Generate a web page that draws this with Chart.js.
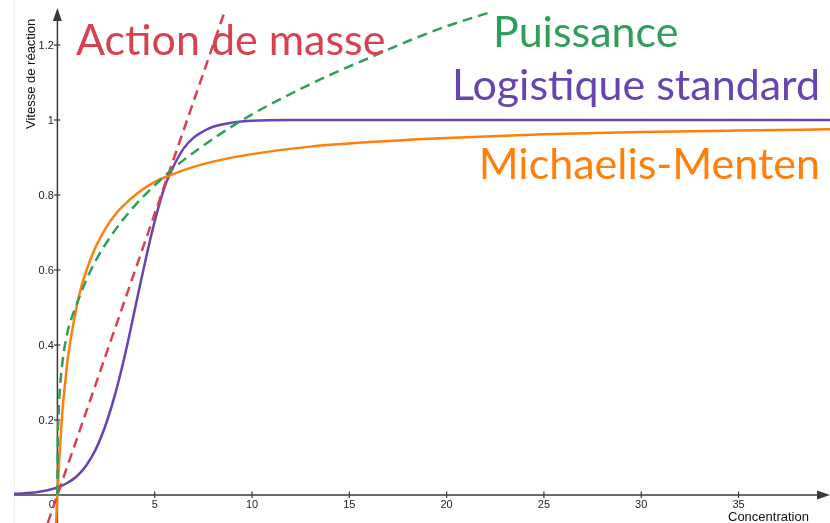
<!DOCTYPE html>
<html><head><meta charset="utf-8">
<script src="https://cdn.jsdelivr.net/npm/chart.js@4.4.1/dist/chart.umd.min.js"></script>
<style>html,body{margin:0;padding:0;background:#fff}#wrap{position:relative;width:830px;height:523px}</style>
</head><body><div id="wrap"><canvas id="c"></canvas></div>
<script>
// Data
const mmX = [-0.07, 0, 0.05, 0.1, 0.2, 0.3, 0.4, 0.5, 0.65, 0.8, 1, 1.25, 1.5, 1.75, 2, 2.5, 3, 3.5, 4, 5, 6, 7, 8, 10, 13, 16, 20, 25, 30, 35, 39.7];
const mmY = [-0.075, 0, 0.05, 0.1, 0.18, 0.25, 0.3, 0.35, 0.405, 0.45, 0.505, 0.56, 0.6, 0.635, 0.665, 0.713, 0.75, 0.777, 0.8, 0.835, 0.857, 0.875, 0.889, 0.909, 0.929, 0.941, 0.952, 0.962, 0.968, 0.972, 0.975];

const pwX = [0, 0.02, 0.05, 0.1, 0.25, 0.5, 0.75, 1, 1.5, 2, 3, 4, 5, 6, 8, 10, 12, 14, 16, 18, 20, 22.1];
const pwY = [0, 0.15, 0.2, 0.26, 0.35, 0.43, 0.475, 0.51, 0.575, 0.628, 0.709, 0.773, 0.826, 0.873, 0.95, 1.015, 1.07, 1.12, 1.165, 1.21, 1.25, 1.285];

const lgX = [-2.23, -1, 0, 0.5, 1, 1.5, 2, 2.5, 3, 3.5, 4, 4.5, 5, 5.5, 6, 6.5, 7, 7.5, 8, 9, 10, 12, 39.7];
const lgY = [0.003, 0.008, 0.02, 0.032, 0.05, 0.08, 0.125, 0.19, 0.275, 0.38, 0.5, 0.62, 0.73, 0.82, 0.88, 0.925, 0.953, 0.97, 0.982, 0.993, 0.998, 1, 1];

const raX = [-0.5, 8.6];
const raY = [-0.075, 1.29];

const xTicks = [0, 5, 10, 15, 20, 25, 30, 35];
const xTickLabels = ['0', '5', '10', '15', '20', '25', '30', '35'];
const yTicks = [0.2, 0.4, 0.6, 0.8, 1, 1.2];
const yTickLabels = ['0.2', '0.4', '0.6', '0.8', '1', '1.2'];

const seriesNames = ['Action de masse', 'Puissance', 'Logistique standard', 'Michaelis-Menten'];
const xTitle = 'Concentration';
const yTitle = 'Vitesse de réaction';

const C_RED = '#d8414f', C_GREEN = '#2e9e58', C_PURPLE = '#6843b2', C_ORANGE = '#ff7f0a';

function pts(xs, ys){ return xs.map((x,i)=>({x:x, y:ys[i]})); }

const axesPlugin = {
  id: 'axes',
  beforeDatasetsDraw(chart){
    const ctx = chart.ctx, xs = chart.scales.x, ys = chart.scales.y;
    const x0 = xs.getPixelForValue(0), y0 = ys.getPixelForValue(0);
    ctx.save();
    ctx.strokeStyle = '#f0f0f0'; ctx.lineWidth = 1;
    ctx.beginPath(); ctx.moveTo(14.5, 0); ctx.lineTo(14.5, 523); ctx.stroke();
    ctx.strokeStyle = '#3a3a3a'; ctx.fillStyle = '#3a3a3a'; ctx.lineWidth = 1.5;
    ctx.beginPath(); ctx.moveTo(14, y0); ctx.lineTo(820, y0); ctx.stroke();
    ctx.beginPath(); ctx.moveTo(830, y0); ctx.lineTo(817, y0-4.5); ctx.lineTo(817, y0+4.5); ctx.closePath(); ctx.fill();
    ctx.beginPath(); ctx.moveTo(x0, 523); ctx.lineTo(x0, 18); ctx.stroke();
    ctx.beginPath(); ctx.moveTo(x0, 8); ctx.lineTo(x0-4.5, 21); ctx.lineTo(x0+4.5, 21); ctx.closePath(); ctx.fill();
    ctx.lineWidth = 1.2;
    ctx.font = "11px 'Liberation Sans', Arial, sans-serif";
    ctx.fillStyle = '#222';
    xTicks.forEach((v,i)=>{
      const px = xs.getPixelForValue(v);
      if (v !== 0){ ctx.beginPath(); ctx.moveTo(px, y0-3.5); ctx.lineTo(px, y0+3); ctx.stroke(); }
      ctx.textAlign = 'center'; ctx.textBaseline = 'alphabetic';
      ctx.fillText(xTickLabels[i], v === 0 ? px-5.5 : px, y0+13);
    });
    yTicks.forEach((v,i)=>{
      const py = ys.getPixelForValue(v);
      ctx.beginPath(); ctx.moveTo(x0-3.5, py); ctx.lineTo(x0+3, py); ctx.stroke();
      ctx.textAlign = 'right'; ctx.textBaseline = 'alphabetic';
      ctx.fillText(yTickLabels[i], x0-3.5, py+4);
    });
    ctx.font = "13px 'Liberation Sans', Arial, sans-serif";
    ctx.fillStyle = '#111';
    ctx.textAlign = 'left';
    ctx.fillText(xTitle, 728, 521);
    ctx.save();
    ctx.translate(35, 129); ctx.rotate(-Math.PI/2);
    ctx.fillText(yTitle, 0, 0);
    ctx.restore();
    ctx.restore();
  },
  afterDraw(chart){
    const ctx = chart.ctx;
    ctx.save();
    ctx.font = "43px Lato, 'Noto Sans', sans-serif";
    ctx.textBaseline = 'alphabetic';
    ctx.textAlign = 'left';
    ctx.fillStyle = C_RED; ctx.fillText(seriesNames[0], 76, 55);
    ctx.fillStyle = C_GREEN; ctx.fillText(seriesNames[1], 493, 47);
    ctx.textAlign = 'right';
    ctx.fillStyle = C_PURPLE; ctx.fillText(seriesNames[2], 820, 100);
    ctx.fillStyle = C_ORANGE; ctx.fillText(seriesNames[3], 820, 179);
    ctx.restore();
  }
};

new Chart(document.getElementById('c'), {
  type: 'scatter',
  data: {
    datasets: [
      {label: seriesNames[1], data: pts(pwX, pwY), showLine: true, borderColor: C_GREEN, borderWidth: 2.5, borderDash: [10, 6], pointRadius: 0, cubicInterpolationMode: 'monotone'},
      {label: seriesNames[0], data: pts(raX, raY), showLine: true, borderColor: C_RED, borderWidth: 2.5, borderDash: [10, 6], pointRadius: 0},
      {label: seriesNames[3], data: pts(mmX, mmY), showLine: true, borderColor: C_ORANGE, borderWidth: 2.5, pointRadius: 0, cubicInterpolationMode: 'monotone'},
      {label: seriesNames[2], data: pts(lgX, lgY), showLine: true, borderColor: C_PURPLE, borderWidth: 2.5, pointRadius: 0, cubicInterpolationMode: 'monotone'}
    ]
  },
  options: {
    animation: false, responsive: true, maintainAspectRatio: false,
    layout: {padding: 0},
    plugins: {legend: {display: false}, tooltip: {enabled: false}},
    scales: {
      x: {type: 'linear', display: false, min: -2.95, max: 39.7},
      y: {type: 'linear', display: false, min: -0.0747, max: 1.32}
    }
  },
  plugins: [axesPlugin]
});
</script>
</body></html>
